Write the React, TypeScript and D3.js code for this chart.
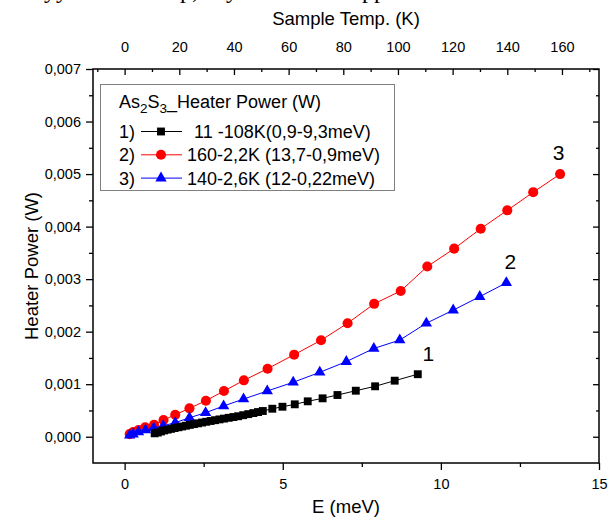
import { useEffect, useRef } from 'react';
import * as d3 from 'd3';

// series 1: 11 -108K (0,9-9,3 meV)
const e1 = [0.95, 1.05, 1.15, 1.25, 1.36, 1.47, 1.58, 1.70, 1.82, 1.94, 2.06, 2.19, 2.32, 2.45, 2.58, 2.72, 2.86, 3.00, 3.14, 3.29, 3.44, 3.59, 3.75, 3.91, 4.07, 4.22, 4.37, 4.67, 4.99, 5.38, 5.79, 6.26, 6.73, 7.31, 7.92, 8.54, 9.27];
const p1 = [0.065, 0.08, 0.10, 0.12, 0.135, 0.15, 0.165, 0.18, 0.195, 0.21, 0.225, 0.24, 0.255, 0.27, 0.285, 0.30, 0.315, 0.33, 0.345, 0.36, 0.375, 0.39, 0.41, 0.43, 0.45, 0.47, 0.49, 0.533, 0.571, 0.617, 0.674, 0.731, 0.794, 0.876, 0.96, 1.067, 1.19];

// series 2: 160-2,2K (13,7-0,9 meV)
const e2 = [0.16, 0.27, 0.44, 0.65, 0.93, 1.23, 1.60, 2.05, 2.57, 3.14, 3.77, 4.52, 5.36, 6.21, 7.05, 7.89, 8.73, 9.57, 10.42, 11.26, 12.10, 12.92, 13.77];
const p2 = [0.05, 0.09, 0.128, 0.179, 0.229, 0.318, 0.419, 0.541, 0.686, 0.870, 1.074, 1.295, 1.562, 1.836, 2.16, 2.53, 2.775, 3.24, 3.58, 3.96, 4.31, 4.655, 5.0];

// series 3: 140-2,6K (12-0,22 meV)
const e3 = [0.16, 0.27, 0.44, 0.66, 0.92, 1.22, 1.60, 2.05, 2.56, 3.13, 3.76, 4.51, 5.33, 6.17, 7.01, 7.88, 8.70, 9.54, 10.39, 11.23, 12.07];
const p3 = [0.027, 0.05, 0.09, 0.128, 0.166, 0.21, 0.267, 0.362, 0.457, 0.585, 0.718, 0.87, 1.036, 1.226, 1.43, 1.68, 1.84, 2.16, 2.41, 2.667, 2.93];

const xTicks = [0, 5, 10, 15];
const xMinor = [2.5, 7.5, 12.5];
const tTicks = [0, 20, 40, 60, 80, 100, 120, 140, 160];
const tMinor = [-10, 10, 30, 50, 70, 90, 110, 130, 150, 170];
const yTicks = [0, 0.001, 0.002, 0.003, 0.004, 0.005, 0.006, 0.007];
const yMinor = [0.0005, 0.0015, 0.0025, 0.0035, 0.0045, 0.0055, 0.0065];

const legendRows = ['  11 -108K(0,9-9,3meV)', '160-2,2K (13,7-0,9meV)', '140-2,6K (12-0,22meV)'];

const FONT = '"Liberation Sans", Arial, sans-serif';
const W = 614;
const H = 524;
const K_PER_MEV = 11.57;

export default function App() {
  const svgRef = useRef<SVGSVGElement | null>(null);

  useEffect(() => {
    const svg = d3.select(svgRef.current);
    svg.selectAll('*').remove();

    const margin = { top: 69, right: 15, bottom: 61, left: 93 };
    const x = d3.scaleLinear().domain([-1, 15]).range([margin.left, W - margin.right]);
    const t = d3.scaleLinear().domain([-1 * K_PER_MEV, 15 * K_PER_MEV]).range([margin.left, W - margin.right]);
    const y = d3.scaleLinear().domain([-0.0005, 0.007]).range([H - margin.bottom, margin.top]);
    const fmt = (v: number) => d3.format('.3f')(v).replace('.', ',');

    const x0 = margin.left, x1 = W - margin.right, y0 = H - margin.bottom, y1 = margin.top;

    // cropped caption line above the figure
    svg.append('text')
      .attr('y', -2)
      .attr('font-family', '"Liberation Serif", "Times New Roman", serif')
      .attr('font-size', 24)
      .selectAll('tspan')
      .data([[44, 'уу'], [180, 'р,'], [226, 'у'], [362, 'рр']])
      .join('tspan')
      .attr('x', d => d[0] as number)
      .text(d => d[1] as string);

    // series
    const line = d3.line<[number, number]>().x(d => x(d[0])).y(d => y(d[1] / 1000));
    const series = [
      { e: e2, p: p2, color: '#ff0000', sym: d3.symbolCircle, size: 80 },
      { e: e3, p: p3, color: '#0000ff', sym: d3.symbolTriangle, size: 56 },
      { e: e1, p: p1, color: '#000000', sym: d3.symbolSquare, size: 62 },
    ];
    series.forEach(s => {
      const pts = s.e.map((v, i) => [v, s.p[i]] as [number, number]);
      svg.append('path').attr('d', line(pts)).attr('fill', 'none').attr('stroke', s.color).attr('stroke-width', 1);
      svg.append('g').selectAll('path').data(pts).join('path')
        .attr('transform', d => `translate(${x(d[0])},${y(d[1] / 1000)})`)
        .attr('d', d3.symbol(s.sym, s.size)())
        .attr('fill', s.color);
    });

    // frame
    svg.append('rect').attr('x', x0).attr('y', y1).attr('width', x1 - x0).attr('height', y0 - y1)
      .attr('fill', 'none').attr('stroke', '#000').attr('stroke-width', 1.5);

    const axisText = (sel: any) => sel.selectAll('text').attr('font-family', FONT).attr('font-size', 14.5).attr('fill', '#000');
    const clean = (sel: any) => { sel.select('.domain').remove(); sel.selectAll('line').attr('stroke-width', 1.3); };

    // bottom
    svg.append('g').attr('transform', `translate(0,${y0})`)
      .call(d3.axisBottom(x).tickValues(xTicks).tickSize(7).tickPadding(9).tickFormat(d3.format('d') as any)).call(axisText).call(clean);
    svg.append('g').attr('transform', `translate(0,${y0})`)
      .call(d3.axisBottom(x).tickValues(xMinor).tickSize(4).tickFormat(() => '')).call(clean);

    // top
    svg.append('g').attr('transform', `translate(0,${y1})`)
      .call(d3.axisTop(t).tickValues(tTicks).tickSizeInner(-6).tickSizeOuter(0).tickPadding(17).tickFormat(d3.format('d') as any))
      .call(axisText).call(clean);
    svg.append('g').attr('transform', `translate(0,${y1})`)
      .call(d3.axisTop(t).tickValues(tMinor).tickSizeInner(-3).tickSizeOuter(0).tickFormat(() => '')).call(clean);

    // left
    svg.append('g').attr('transform', `translate(${x0},0)`)
      .call(d3.axisLeft(y).tickValues(yTicks).tickSize(7).tickPadding(5).tickFormat(fmt as any)).call(axisText).call(clean);
    svg.append('g').attr('transform', `translate(${x0},0)`)
      .call(d3.axisLeft(y).tickValues(yMinor).tickSize(4).tickFormat(() => '')).call(clean);

    // right
    svg.append('g').attr('transform', `translate(${x1},0)`)
      .call(d3.axisRight(y).tickValues(yTicks).tickSizeInner(-6).tickSizeOuter(0).tickFormat(() => '')).call(clean);
    svg.append('g').attr('transform', `translate(${x1},0)`)
      .call(d3.axisRight(y).tickValues(yMinor).tickSizeInner(-3).tickSizeOuter(0).tickFormat(() => '')).call(clean);

    // axis titles
    svg.append('text').attr('x', (x0 + x1) / 2).attr('y', 25).attr('text-anchor', 'middle')
      .attr('font-family', FONT).attr('font-size', 18.5).text('Sample Temp. (K)');
    svg.append('text').attr('x', (x0 + x1) / 2).attr('y', 513).attr('text-anchor', 'middle')
      .attr('font-family', FONT).attr('font-size', 18.5).text('E (meV)');
    svg.append('text').attr('transform', `translate(38,${(y0 + y1) / 2}) rotate(-90)`).attr('text-anchor', 'middle')
      .attr('font-family', FONT).attr('font-size', 18.5).text('Heater Power (W)');

    // curve numbers
    const nums: [string, number, number][] = [['1', 9.6, 1.45], ['2', 12.2, 3.2], ['3', 13.72, 5.26]];
    nums.forEach(([s, e, p]) => {
      svg.append('text').attr('x', x(e)).attr('y', y(p / 1000)).attr('text-anchor', 'middle')
        .attr('font-family', FONT).attr('font-size', 21).text(s);
    });

    // legend
    const lg = svg.append('g');
    lg.append('rect').attr('x', 100.5).attr('y', 84.5).attr('width', 294).attr('height', 106)
      .attr('fill', '#fff').attr('stroke', '#808080').attr('stroke-width', 1);
    const title = lg.append('text').attr('x', 119).attr('y', 108).attr('font-family', FONT).attr('font-size', 18);
    title.append('tspan').text('As');
    title.append('tspan').attr('font-size', 13.5).attr('dy', 5).text('2');
    title.append('tspan').attr('dy', -5).text('S');
    title.append('tspan').attr('font-size', 13.5).attr('dy', 5).text('3');
    title.append('tspan').attr('dy', -5).text('_Heater Power (W)');

    const legSeries = [series[2], series[0], series[1]];
    legendRows.forEach((label, i) => {
      const cy = 131.5 + i * 23.3;
      lg.append('text').attr('x', 119).attr('y', cy + 6.5).attr('font-family', FONT).attr('font-size', 18).text(`${i + 1})`);
      lg.append('line').attr('x1', 141).attr('x2', 182).attr('y1', cy).attr('y2', cy)
        .attr('stroke', legSeries[i].color).attr('stroke-width', 1);
      lg.append('path').attr('transform', `translate(161,${cy})`).attr('d', d3.symbol(legSeries[i].sym, legSeries[i].size)())
        .attr('fill', legSeries[i].color);
      lg.append('text').attr('x', i === 0 ? 184 : 187).attr('y', cy + 6.5).attr('font-family', FONT).attr('font-size', 18)
        .attr('xml:space', 'preserve').style('white-space', 'pre').text(label);
    });
  }, []);

  return (
    <svg ref={svgRef} width={W} height={H} style={{ position: 'absolute', left: 0, top: 0, background: '#fff' }} />
  );
}
